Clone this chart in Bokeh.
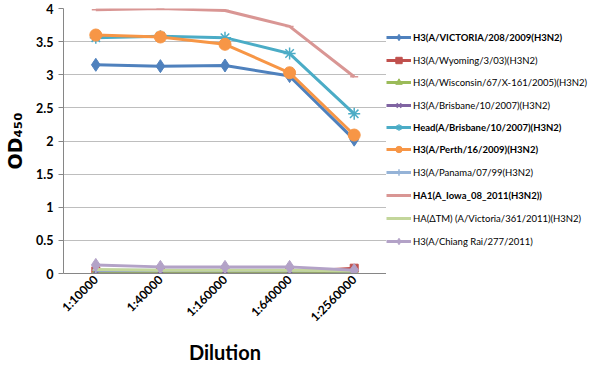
from bokeh.plotting import figure
from bokeh.layouts import row
from bokeh.models import (Range1d, FixedTicker, Legend, LegendItem)
from bokeh.embed import file_html
from bokeh.resources import INLINE

# ---- data ----
dilutions = ["1:10000", "1:40000", "1:160000", "1:640000", "1:2560000"]
y_ticks = [0, 0.5, 1, 1.5, 2, 2.5, 3, 3.5, 4]
y_tick_labels = ["0", "0.5", "1", "1.5", "2", "2.5", "3", "3.5", "4"]

victoria_208 = [3.15, 3.13, 3.14, 2.98, 2.02]
wyoming = [0.04, 0.03, 0.03, 0.02, 0.08]
wisconsin = [0.02, 0.02, 0.02, 0.02, 0.03]
brisbane = [0.04, 0.04, 0.04, 0.04, 0.04]
head_brisbane = [3.56, 3.58, 3.56, 3.32, 2.41]
perth = [3.60, 3.57, 3.46, 3.03, 2.09]
panama = [0.05, 0.05, 0.05, 0.05, 0.04]
ha1_iowa = [3.98, 4.00, 3.97, 3.73, 2.97]
ha_dtm = [0.06, 0.05, 0.05, 0.05, 0.04]
chiang_rai = [0.13, 0.10, 0.10, 0.10, 0.05]

series = [
    ("H3(A/VICTORIA/208/2009(H3N2)", victoria_208, "#4F81BD", "diamond", 13, True),
    ("H3(A/Wyoming/3/03)(H3N2)", wyoming, "#C0504D", "square", 8, False),
    ("H3(A/Wisconsin/67/X-161/2005)(H3N2)", wisconsin, "#9BBB59", "triangle", 9, False),
    ("H3(A/Brisbane/10/2007)(H3N2)", brisbane, "#8064A2", "x", 8, False),
    ("Head(A/Brisbane/10/2007)(H3N2)", head_brisbane, "#4BACC6", "asterisk", 12, True),
    ("H3(A/Perth/16/2009)(H3N2)", perth, "#F79646", "circle", 12, True),
    ("H3(A/Panama/07/99(H3N2)", panama, "#95B3D7", "cross", 7, False),
    ("HA1(A_Iowa_08_2011(H3N2))", ha1_iowa, "#D99694", "dash", 8, True),
    ("HA(\u0394TM) (A/Victoria/361/2011)(H3N2)", ha_dtm, "#C3D69B", "dash", 6, False),
    ("H3(A/Chiang Rai/277/2011)", chiang_rai, "#B3A2C7", "diamond", 13, False),
]

FONT = "Lato"
H = 366
TOP = 8
BOTTOM = 92

p = figure(x_range=dilutions, y_range=Range1d(0, 4), width=386, height=H,
           output_backend="svg", toolbar_location=None,
           min_border_left=63, min_border_right=0, min_border_top=TOP,
           min_border_bottom=BOTTOM)
p.outline_line_color = None
p.background_fill_color = "white"
p.border_fill_color = "white"

p.xgrid.grid_line_color = None
p.ygrid.grid_line_color = "#BEBEBE"
p.ygrid.grid_line_width = 1

p.yaxis.ticker = FixedTicker(ticks=y_ticks)
p.yaxis.major_label_overrides = {t: l for t, l in zip(y_ticks, y_tick_labels)}
p.yaxis.axis_line_color = "#868686"
p.yaxis.major_tick_line_color = "#868686"
p.yaxis.major_tick_out = 5
p.yaxis.major_tick_in = 0
p.yaxis.minor_tick_line_color = None
p.yaxis.major_label_text_font = FONT
p.yaxis.major_label_text_font_style = "bold"
p.yaxis.major_label_text_font_size = "12.5px"
p.yaxis.major_label_text_color = "#000000"
p.yaxis.major_label_standoff = 5
p.yaxis.axis_label = "OD\u2084\u2085\u2080"
p.yaxis.axis_label_text_font = "DejaVu Sans"
p.yaxis.axis_label_text_font_style = "bold"
p.yaxis.axis_label_text_font_size = "19px"
p.yaxis.axis_label_text_color = "#000000"
p.yaxis.axis_label_standoff = 7

p.xaxis.axis_line_color = "#868686"
p.xaxis.major_tick_line_color = None
p.xaxis.major_tick_out = 0
p.xaxis.major_tick_in = 0
p.xaxis.major_label_orientation = 0.785398
p.xaxis.major_label_text_font = FONT
p.xaxis.major_label_text_font_style = "bold"
p.xaxis.major_label_text_font_size = "12px"
p.xaxis.major_label_text_line_height = 1.0
p.xaxis.major_label_text_color = "#000000"
p.xaxis.major_label_standoff = 4
p.xaxis.axis_label = "Dilution"
p.xaxis.axis_label_text_font = FONT
p.xaxis.axis_label_text_font_style = "bold"
p.xaxis.axis_label_text_font_size = "20px"
p.xaxis.axis_label_text_line_height = 1.0
p.xaxis.axis_label_text_color = "#000000"
p.xaxis.axis_label_standoff = 7

# legend panel (separate figure so the legend is not clipped)
lf = figure(width=210, height=H, x_range=Range1d(0, 1), y_range=Range1d(0, 1),
            output_backend="svg", toolbar_location=None,
            x_axis_location=None, y_axis_location=None,
            min_border_left=0, min_border_right=0,
            min_border_top=TOP, min_border_bottom=BOTTOM)
lf.grid.visible = False
lf.outline_line_color = None
lf.background_fill_color = "white"
lf.border_fill_color = "white"

xs_idx = list(range(len(dilutions)))
centers = [38, 61, 83, 106, 128, 150, 173, 196, 219, 242]
item_h = 16
frame_bottom = H - BOTTOM


def add_series(fig, xs, vals, color, marker, size, visible=True):
    lr = fig.line(xs, vals, line_color=color, line_width=3, visible=visible)
    if marker in ("x", "asterisk", "cross", "dash"):
        sr = fig.scatter(xs, vals, marker=marker, size=size, visible=visible,
                         line_color=color, line_width=1.5, fill_color=color)
    else:
        sr = fig.scatter(xs, vals, marker=marker, size=size, visible=visible,
                         line_color=color, fill_color=color)
    return lr, sr


for (name, vals, color, marker, size, bold), cy in zip(series, centers):
    add_series(p, dilutions, vals, color, marker, size)
    lr, sr = add_series(lf, xs_idx, vals, color, marker, min(size, 9), visible=False)
    lg = Legend(items=[LegendItem(label=name, renderers=[lr, sr])],
                location=(0, frame_bottom - cy - item_h // 2),
                padding=0, margin=0, spacing=0,
                glyph_width=25, glyph_height=item_h, label_height=item_h,
                label_standoff=2, click_policy="none",
                label_text_font=FONT,
                label_text_font_size="9.5px",
                label_text_font_style="bold" if bold else "normal",
                label_text_color="#000000",
                border_line_color=None, background_fill_alpha=0)
    lf.add_layout(lg)

layout = row(p, lf)
open("out.html", "w").write(file_html(layout, INLINE))
